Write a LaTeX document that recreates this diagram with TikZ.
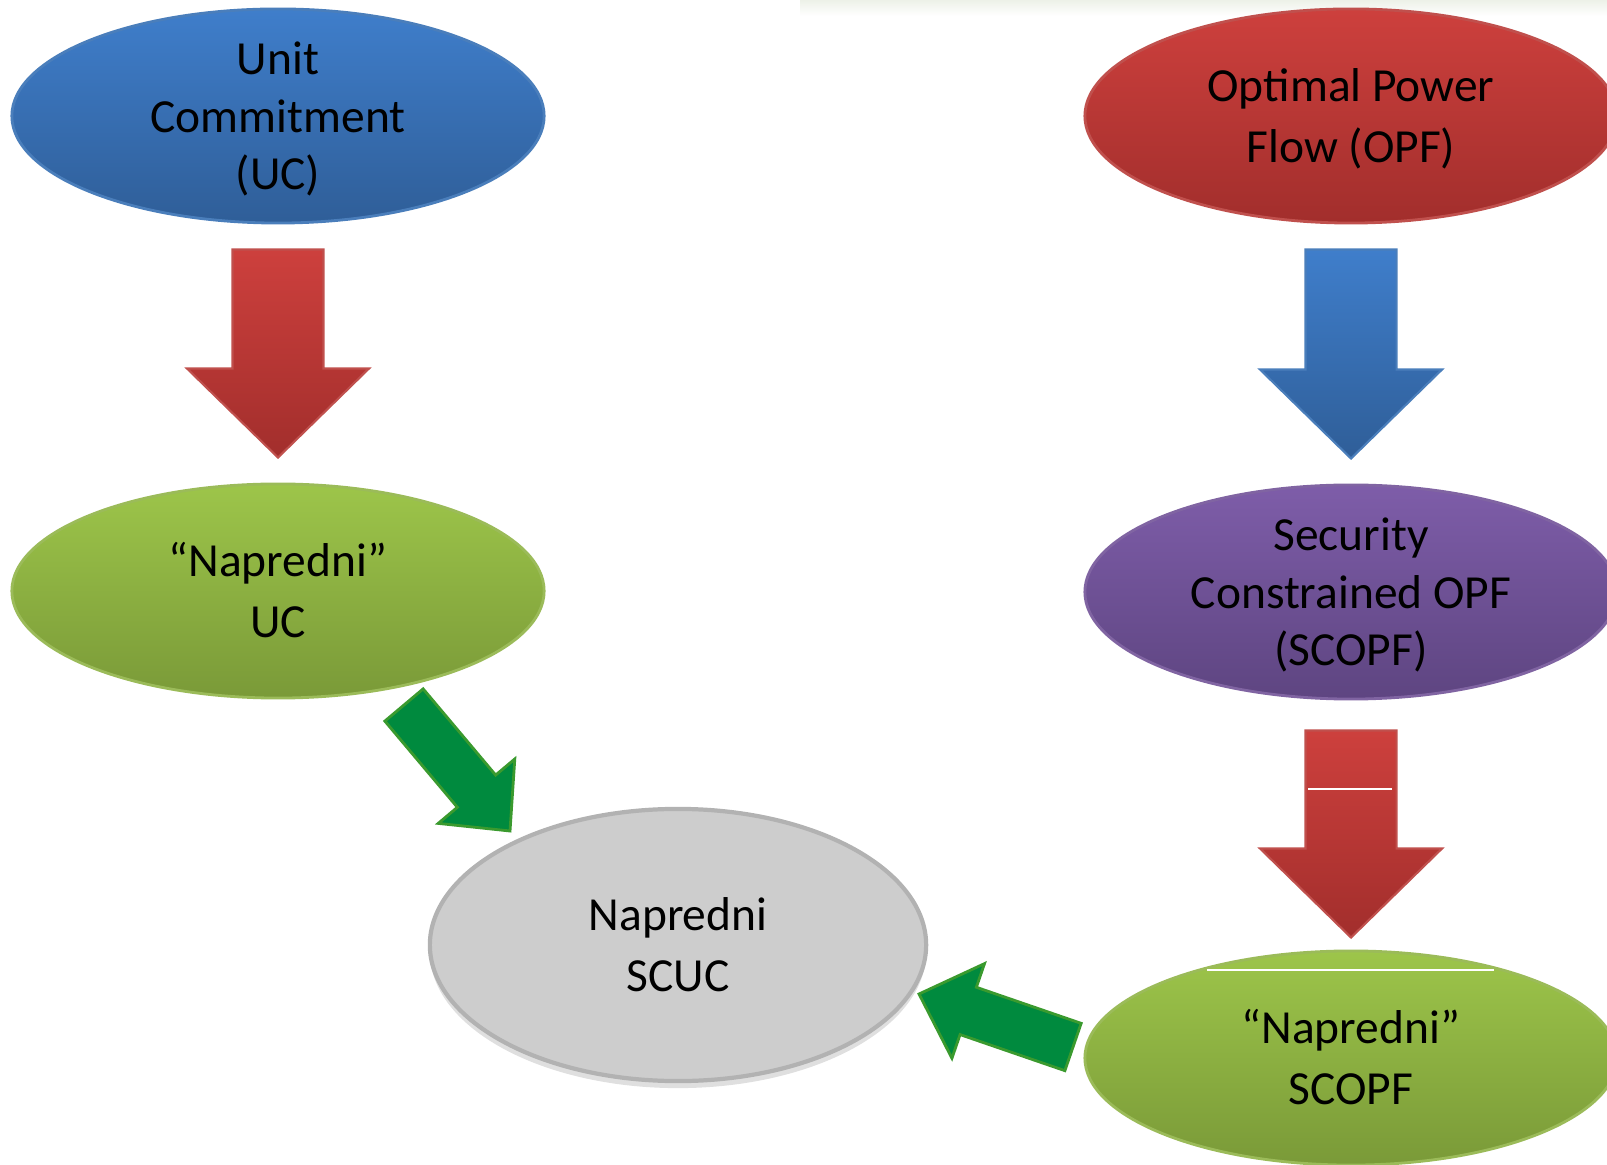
\documentclass[tikz,border=0pt]{standalone}
\usepackage{fontspec}
\setmainfont{Carlito}
\definecolor{ucblue}{HTML}{3F7ECB}
\definecolor{ucbluedk}{HTML}{2F5E98}
\definecolor{ucblueln}{HTML}{4A7EBB}
\definecolor{opfred}{HTML}{CD403D}
\definecolor{opfreddk}{HTML}{A22E2C}
\definecolor{opfredln}{HTML}{C0504D}
\definecolor{nlime}{HTML}{9DC54A}
\definecolor{nlimedk}{HTML}{7A9A38}
\definecolor{nlimeln}{HTML}{9BBB59}
\definecolor{scviolet}{HTML}{7E5DA9}
\definecolor{scvioletdk}{HTML}{5E4581}
\definecolor{scvioletln}{HTML}{8064A2}
\definecolor{scgray}{HTML}{CDCDCD}
\definecolor{fwdgreen}{HTML}{008A3E}
\definecolor{fwdgreenln}{HTML}{3A9A2E}
\definecolor{topband}{HTML}{EDF1E8}
\usetikzlibrary{shapes.geometric,calc,shadows}

% block arrow: style, tail, tip, shaft half width, head half width, head length
\newcommand{\blockarrow}[6]{%
  \coordinate (ba-h) at ($(#3)!#6!(#2)$);
  \path[#1] ($(#2)!#4!90:(#3)$) -- ($(ba-h)!#4!90:(#3)$) -- ($(ba-h)!#5!90:(#3)$) -- (#3)
    -- ($(ba-h)!#5!-90:(#3)$) -- ($(ba-h)!#4!-90:(#3)$) -- ($(#2)!#4!-90:(#3)$) -- cycle;
}
\newcommand{\ls}{\rule[-0.27em]{0pt}{1.22em}}

\begin{document}
\begin{tikzpicture}[x=0.01cm, y=-0.01cm,
  oval/.style={ellipse, minimum width=5.32cm, minimum height=2.14cm,
    inner xsep=0pt, inner ysep=-0.4cm, align=center, line width=0.8pt,
    font=\fontsize{13.5}{16.4}\selectfont},
  blueoval/.style={oval, draw=ucblueln, top color=ucblue, bottom color=ucbluedk},
  redoval/.style={oval, draw=opfredln, top color=opfred, bottom color=opfreddk},
  limeoval/.style={oval, draw=nlimeln, top color=nlime, bottom color=nlimedk},
  violetoval/.style={oval, draw=scvioletln, top color=scviolet, bottom color=scvioletdk},
  grayoval/.style={oval, minimum width=4.96cm, minimum height=2.72cm, fill=scgray,
    draw=black!30, line width=1.2pt, drop shadow={opacity=0.25, shadow xshift=0pt, shadow yshift=-2pt}},
  redarr/.style={draw=opfredln, line width=0.6pt, top color=opfred, bottom color=opfreddk},
  bluearr/.style={draw=ucblueln, line width=0.6pt, top color=ucblue, bottom color=ucbluedk},
  greenarr/.style={draw=fwdgreenln, line width=0.8pt, fill=fwdgreen}
]
  \useasboundingbox (0,0) rectangle (1607,1165);
  \clip (0,0) rectangle (1607,1165);
  \shade[top color=topband, bottom color=white] (800,0) rectangle (1607,16);

  % ovals
  \node[blueoval] (uc) at (278,116) {\ls Unit\\Commitment\\(UC)\ls};
  \node[redoval] (opf) at (1351,116) {\ls Optimal Power\\Flow (OPF)\ls};
  \node[limeoval] (nuc) at (278,591) {\ls “Napredni”\\UC\ls};
  \node[violetoval] (scopf) at (1351,592) {\ls Security\\Constrained OPF\\(SCOPF)\ls};
  \node[limeoval] (nscopf) at (1351,1058) {\ls “Napredni”\\SCOPF\ls};
  \node[grayoval] (scuc) at (678,945) {\ls Napredni\\SCUC\ls};

  % arrow ends
  \coordinate (g1a) at (404,705);
  \coordinate (g1b) at (510,831);
  \coordinate (g2a) at (1073,1047);
  \coordinate (g2b) at (919,994);

  % arrows
  \blockarrow{redarr}{$(uc.south)+(0,25)$}{$(nuc.north)+(0,-25)$}{0.455cm}{0.91cm}{0.89cm}
  \blockarrow{bluearr}{$(opf.south)+(0,25)$}{$(scopf.north)+(0,-25)$}{0.455cm}{0.91cm}{0.89cm}
  \blockarrow{redarr}{$(scopf.south)+(0,30)$}{$(nscopf.north)+(0,-12)$}{0.455cm}{0.91cm}{0.89cm}
  \blockarrow{greenarr}{g1a}{g1b}{0.25cm}{0.5cm}{0.52cm}
  \blockarrow{greenarr}{g2a}{g2b}{0.25cm}{0.5cm}{0.52cm}

  % thin light seams
  \draw[white, line width=0.5pt] (1308,789) -- (1392,789);
  \draw[white, line width=0.5pt] (1207,970) -- (1494,970);
\end{tikzpicture}
\end{document}
